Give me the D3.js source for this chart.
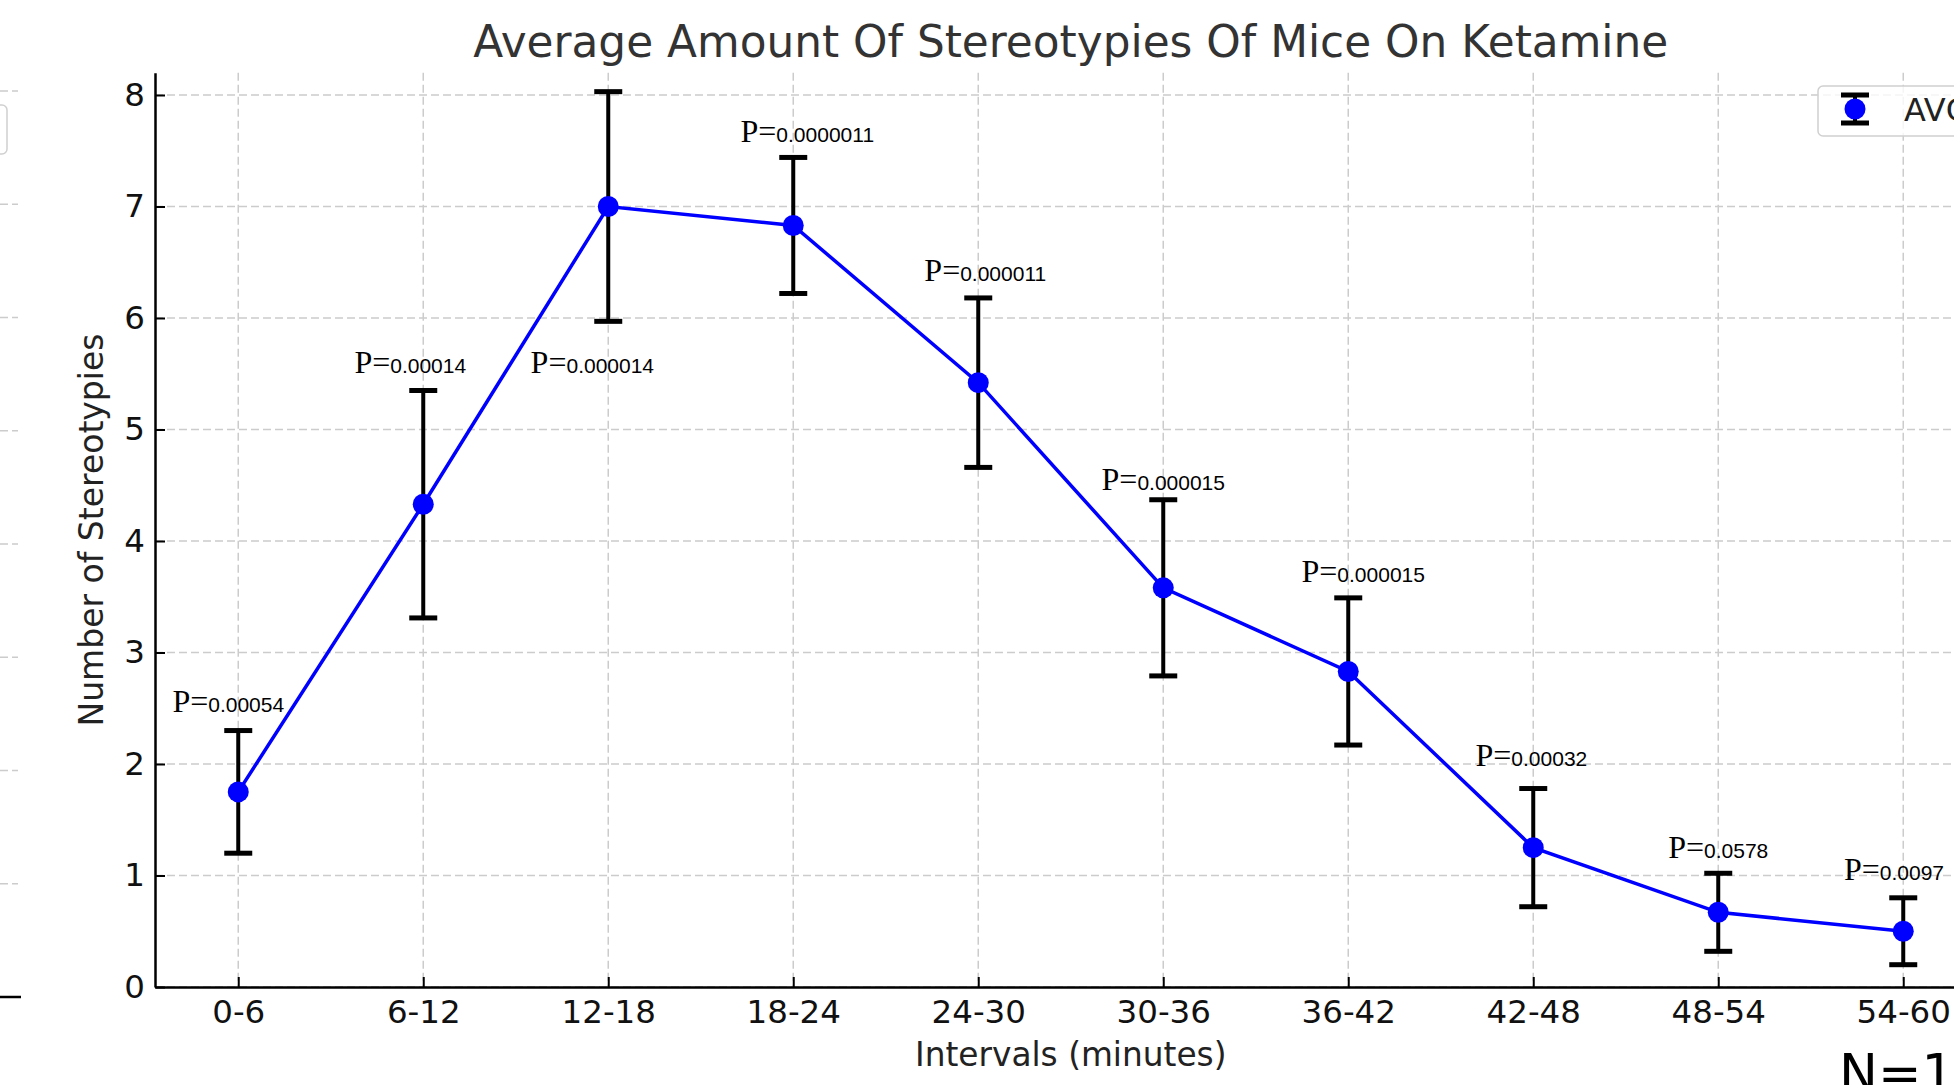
<!DOCTYPE html>
<html>
<head>
<meta charset="utf-8">
<title>Average Amount Of Stereotypies Of Mice On Ketamine</title>
<script src="https://cdn.jsdelivr.net/npm/d3@7"></script>
<style>
	html, body { margin: 0; padding: 0; overflow: hidden; background: #fff; }
	text { font-family: "DejaVu Sans", sans-serif; }
	.grid line { stroke: #cccccc; stroke-width: 1.5; stroke-dasharray: 8,4; }
	.axis .domain { stroke: #000; stroke-width: 2.5; }
	.axis .tick line { stroke: #000; stroke-width: 2; }
	.axis .tick text { fill: #111; }
</style>
</head>
<body onload="onLoad()">
<div></div>
<script>
var categories = ["0-6", "6-12", "12-18", "18-24", "24-30", "30-36", "36-42", "42-48", "48-54", "54-60"];
var avgValues = [1.75, 4.33, 7.0, 6.83, 5.42, 3.58, 2.83, 1.25, 0.67, 0.5];
var errValues = [0.55, 1.02, 1.03, 0.61, 0.76, 0.79, 0.66, 0.53, 0.35, 0.30];
var pValues = ["0.00054", "0.00014", "0.000014", "0.0000011", "0.000011", "0.000015", "0.000015", "0.00032", "0.0578", "0.0097"];
// where each P label sits, in data units (baseline y, shift in categories)
var pLabelY = [2.47, 5.51, 5.51, 7.58, 6.33, 4.46, 3.63, 1.98, 1.16, 0.96];
var pLabelShift = [-0.054, -0.07, -0.086, 0.076, 0.038, 0, 0.081, -0.01, 0, -0.05];
var yTicks = [0, 1, 2, 3, 4, 5, 6, 7, 8];
var yMax = 8.2;
var legendLabel = "AVG";
var sampleLabel = "N=11";

var svgContainer,
	width = 1954,
	height = 1085,
	plot = {
		left: 155,
		right: 1986.5,
		top: 72.7,
		bottom: 987
	},
	xScale, yScale;

function onLoad() {
	svgContainer = d3.select("div")
	.append("svg")
	.attr("width", width)
	.attr("height", height)
	.style("display", "block");

	xScale = d3.scalePoint().domain(categories).range([plot.left, plot.right]).padding(0.45);
	yScale = d3.scaleLinear().domain([0, yMax]).range([plot.bottom, plot.top]);

	drawGhost();
	drawGrid();
	drawAxes();
	drawErrorBars();
	drawSeries();
	drawPLabels();
	drawLegend();
	drawTexts();
}

///////////////////////////////////
////////////DRAWING////////////////
///////////////////////////////////

// leftovers of a second copy of the chart peeking in at the left edge
function drawGhost() {
	var ghostY = d3.scaleLinear().domain([0, 8]).range([997, 91]);
	var g = svgContainer.append("g").attr("class", "grid");

	g.selectAll("line")
	.data(yTicks.slice(1))
	.enter().append("line")
	.attr("x1", 0)
	.attr("x2", 18)
	.attr("y1", d => ghostY(d))
	.attr("y2", d => ghostY(d));

	svgContainer.append("line")
	.attr("x1", 0).attr("x2", 21)
	.attr("y1", ghostY(0)).attr("y2", ghostY(0))
	.attr("stroke", "#000")
	.attr("stroke-width", 2.5);

	svgContainer.append("rect")
	.attr("x", -30).attr("y", 105)
	.attr("width", 37).attr("height", 49)
	.attr("rx", 5)
	.attr("fill", "none")
	.attr("stroke", "#d0d0d0")
	.attr("stroke-width", 1.5);
}

function drawGrid() {
	var g = svgContainer.append("g").attr("class", "grid");

	g.selectAll(".hgrid")
	.data(yTicks)
	.enter().append("line")
	.attr("class", "hgrid")
	.attr("x1", plot.left)
	.attr("x2", plot.right)
	.attr("y1", d => yScale(d))
	.attr("y2", d => yScale(d));

	g.selectAll(".vgrid")
	.data(categories)
	.enter().append("line")
	.attr("class", "vgrid")
	.attr("x1", d => xScale(d))
	.attr("x2", d => xScale(d))
	.attr("y1", plot.top)
	.attr("y2", plot.bottom);
}

function drawAxes() {
	var xAxis = d3.axisBottom(xScale).tickSizeInner(-10).tickSizeOuter(0).tickPadding(13);
	var yAxis = d3.axisLeft(yScale).tickValues(yTicks).tickFormat(d3.format("d"))
		.tickSizeInner(-10).tickSizeOuter(0).tickPadding(10);

	var xAxisGroup = svgContainer.append("g")
	.attr("class", "axis")
	.attr("transform", "translate(0," + plot.bottom + ")")
	.call(xAxis);

	var yAxisGroup = svgContainer.append("g")
	.attr("class", "axis")
	.attr("transform", "translate(" + plot.left + ",0)")
	.call(yAxis);

	xAxisGroup.selectAll("text").attr("font-size", 32.5).attr("font-family", "DejaVu Sans");
	yAxisGroup.selectAll("text").attr("font-size", 32.5).attr("font-family", "DejaVu Sans");
}

function drawErrorBars() {
	var capHalf = 14;
	var g = svgContainer.append("g");

	categories.forEach((cat, i) => {
		var x = xScale(cat),
			top = yScale(avgValues[i] + errValues[i]),
			bottom = yScale(avgValues[i] - errValues[i]);

		g.append("line")
		.attr("x1", x).attr("x2", x)
		.attr("y1", top).attr("y2", bottom)
		.attr("stroke", "#000").attr("stroke-width", 4);

		[top, bottom].forEach((y) => {
			g.append("line")
			.attr("x1", x - capHalf).attr("x2", x + capHalf)
			.attr("y1", y).attr("y2", y)
			.attr("stroke", "#000").attr("stroke-width", 5);
		});
	});
}

function drawSeries() {
	var line = d3.line()
	.x((d, i) => xScale(categories[i]))
	.y(d => yScale(d));

	svgContainer.append("path")
	.datum(avgValues)
	.attr("d", line)
	.attr("fill", "none")
	.attr("stroke", "#0000ff")
	.attr("stroke-width", 3.5);

	svgContainer.selectAll(".dot")
	.data(avgValues)
	.enter().append("circle")
	.attr("class", "dot")
	.attr("cx", (d, i) => xScale(categories[i]))
	.attr("cy", d => yScale(d))
	.attr("r", 10.5)
	.attr("fill", "#0000ff");
}

function drawPLabels() {
	var labels = svgContainer.selectAll(".plabel")
	.data(pValues)
	.enter().append("text")
	.attr("class", "plabel")
	.attr("x", (d, i) => xScale(categories[i]) + xScale.step() * pLabelShift[i])
	.attr("y", (d, i) => yScale(pLabelY[i]))
	.attr("text-anchor", "middle")
	.attr("fill", "#000");

	labels.append("tspan")
	.attr("font-family", "Liberation Serif, serif")
	.attr("font-size", 32)
	.text("P=");

	labels.append("tspan")
	.attr("font-family", "Liberation Sans, sans-serif")
	.attr("font-size", 21)
	.text(d => d);
}

function drawLegend() {
	var box = { x: 1818, y: 86, w: 220, h: 50 },
		mx = 1855,
		my = 109;

	svgContainer.append("rect")
	.attr("x", box.x).attr("y", box.y)
	.attr("width", box.w).attr("height", box.h)
	.attr("rx", 5)
	.attr("fill", "#fff")
	.attr("fill-opacity", 0.8)
	.attr("stroke", "#d0d0d0")
	.attr("stroke-width", 1.5);

	svgContainer.append("line")
	.attr("x1", mx).attr("x2", mx).attr("y1", my - 14).attr("y2", my + 14)
	.attr("stroke", "#000").attr("stroke-width", 4);
	[my - 14, my + 14].forEach((y) => {
		svgContainer.append("line")
		.attr("x1", mx - 14).attr("x2", mx + 14).attr("y1", y).attr("y2", y)
		.attr("stroke", "#000").attr("stroke-width", 5);
	});
	svgContainer.append("circle")
	.attr("cx", mx).attr("cy", my).attr("r", 10.5)
	.attr("fill", "#0000ff");

	svgContainer.append("text")
	.attr("x", 1904).attr("y", 121)
	.attr("font-size", 32)
	.attr("fill", "#222")
	.text(legendLabel);
}

function drawTexts() {
	var centerX = (plot.left + plot.right) / 2;

	svgContainer.append("text")
	.attr("x", centerX).attr("y", 57)
	.attr("text-anchor", "middle")
	.attr("font-size", 43.8)
	.attr("fill", "#333")
	.text("Average Amount Of Stereotypies Of Mice On Ketamine");

	svgContainer.append("text")
	.attr("x", centerX).attr("y", 1066)
	.attr("text-anchor", "middle")
	.attr("font-size", 32.8)
	.attr("fill", "#222")
	.text("Intervals (minutes)");

	svgContainer.append("text")
	.attr("transform", "translate(103,530) rotate(-90)")
	.attr("text-anchor", "middle")
	.attr("font-size", 33)
	.attr("fill", "#222")
	.text("Number of Stereotypies");

	svgContainer.append("text")
	.attr("x", 1839).attr("y", 1091)
	.attr("font-family", "Lato, sans-serif")
	.attr("font-size", 52)
	.attr("fill", "#000")
	.text(sampleLabel);
}
</script>
</body>
</html>
